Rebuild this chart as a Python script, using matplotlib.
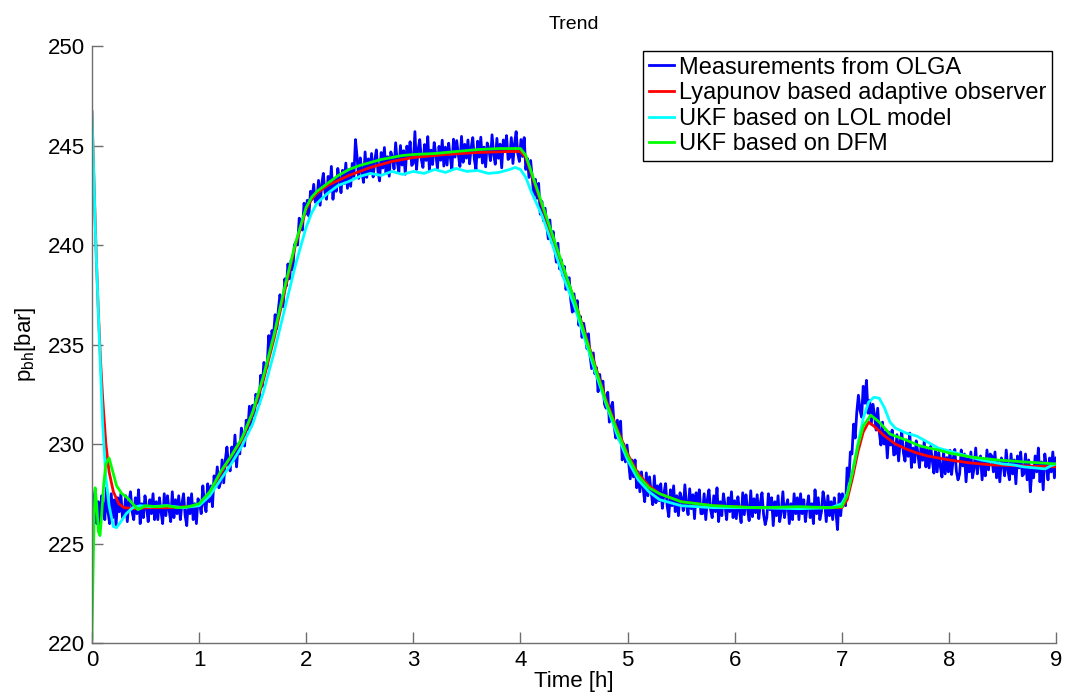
import numpy as np
import matplotlib
matplotlib.use("Agg")
import matplotlib.pyplot as plt

plt.rcParams['font.family'] = ['Liberation Sans', 'DejaVu Sans']

# measurements from OLGA, sampled every 0.015 h (0 .. 9 h), 20 samples per row
meas_t = np.linspace(0, 9, 601)
meas_p = [
    227.5, 226.3, 227.7, 226.0, 227.1, 225.9, 227.4, 226.9, 226.2, 227.8, 226.6, 226.0, 227.5, 226.3, 227.2, 225.9, 227.3, 226.6, 227.5, 226.3,
    226.4, 227.4, 226.1, 227.1, 227.6, 226.6, 226.2, 227.3, 226.5, 227.7, 226.0, 227.0, 226.3, 227.4, 226.8, 226.1, 227.2, 226.5, 227.5, 226.2,
    227.1, 226.2, 227.3, 226.6, 226.0, 227.5, 226.4, 227.4, 226.7, 226.1, 227.6, 226.3, 227.2, 226.5, 227.4, 226.2, 227.0, 227.5, 226.4, 225.9,
    227.3, 226.5, 227.5, 226.2, 227.0, 226.0, 227.25, 227.0, 226.5, 227.9, 227.0, 226.6, 228.0, 227.1, 227.9, 226.85, 228.4, 227.9, 228.85, 227.8,
    228.05, 229.2, 228.05, 229.2, 229.85, 228.95, 228.65, 229.85, 229.15, 230.45, 228.85, 230.0, 229.5, 230.8, 230.4, 229.9, 231.2, 230.7, 231.9, 230.85,
    231.95, 231.4, 232.5, 232.2, 232.0, 233.45, 232.9, 234.1, 233.9, 233.85, 235.45, 234.7, 235.7, 235.45, 236.5, 235.8, 236.75, 237.5, 237.0, 236.9,
    238.3, 237.95, 239.05, 238.3, 239.25, 238.75, 240.0, 240.15, 240.0, 241.35, 240.85, 240.75, 242.1, 241.55, 242.25, 241.45, 242.7, 242.3, 243.05, 242.15,
    242.2, 243.25, 242.0, 243.05, 243.6, 242.65, 242.3, 243.45, 242.7, 243.95, 242.3, 243.35, 242.7, 243.85, 243.3, 242.63, 243.76, 243.09, 244.12, 242.85,
    243.8, 242.95, 244.1, 243.45, 245.3, 244.42, 243.35, 244.38, 243.7, 243.15, 244.68, 243.4, 244.33, 243.66, 244.6, 243.42, 244.25, 244.78, 243.7, 243.22,
    244.65, 243.87, 244.9, 243.62, 244.44, 243.46, 244.68, 244.4, 243.82, 245.14, 244.16, 243.68, 245.0, 244.02, 244.74, 243.56, 244.97, 244.38, 245.19, 244.0,
    244.1, 245.7, 243.8, 244.8, 245.3, 244.3, 243.9, 245.05, 244.25, 245.45, 243.75, 244.77, 244.05, 245.15, 244.55, 243.86, 244.96, 244.26, 245.27, 243.97,
    244.92, 244.02, 245.12, 244.42, 243.82, 245.32, 244.42, 245.25, 244.55, 243.95, 245.46, 244.16, 245.06, 244.37, 245.28, 244.08, 244.9, 245.4, 244.3, 243.8,
    245.22, 244.42, 245.42, 244.12, 244.92, 243.93, 245.13, 244.83, 244.24, 245.54, 244.55, 244.06, 245.36, 244.36, 245.07, 243.88, 245.28, 244.69, 245.5, 244.3,
    244.4, 245.4, 244.1, 245.1, 245.7, 244.6, 244.2, 245.3, 244.45, 245.4, 243.8, 244.35, 243.4, 244.25, 243.4, 242.45, 243.3, 242.35, 243.1, 241.55,
    242.19, 241.22, 241.85, 241.04, 240.31, 241.26, 240.13, 240.68, 239.87, 239.14, 240.09, 238.8, 239.27, 238.46, 238.93, 237.77, 238.21, 238.36, 237.23, 236.63,
    237.55, 236.66, 237.21, 235.97, 236.41, 235.36, 236.07, 235.58, 234.8, 235.54, 234.44, 233.79, 234.58, 233.53, 233.84, 232.63, 233.5, 232.77, 233.16, 232.0,
    231.8, 232.6, 231.1, 231.85, 232.1, 230.9, 230.3, 231.2, 230.2, 231.15, 229.2, 230.0, 229.1, 229.95, 229.1, 228.25, 229.2, 228.35, 229.2, 227.8,
    228.6, 227.6, 228.6, 227.8, 227.1, 228.55, 227.4, 228.35, 227.6, 226.95, 228.4, 227.05, 227.9, 227.15, 228.0, 226.77, 227.54, 228.01, 226.88, 226.35,
    227.7, 226.9, 227.9, 226.6, 227.4, 226.4, 227.55, 227.25, 226.65, 227.95, 226.95, 226.45, 227.75, 226.75, 227.45, 226.25, 227.55, 226.95, 227.7, 226.5,
    226.5, 227.5, 226.2, 227.2, 227.7, 226.7, 226.3, 227.4, 226.6, 227.8, 226.1, 227.1, 226.4, 227.5, 226.9, 226.2, 227.3, 226.6, 227.6, 226.3,
    227.15, 226.25, 227.35, 226.65, 226.05, 227.55, 226.45, 227.45, 226.75, 226.15, 227.65, 226.35, 227.25, 226.55, 227.45, 226.25, 227.05, 227.55, 226.45, 225.95,
    226.3, 227.5, 226.7, 227.3, 225.9, 227.1, 226.4, 227.4, 226.1, 226.6, 227.6, 226.3, 226.9, 227.2, 226.0, 227.0, 226.2, 227.5, 226.5, 227.3,
    226.2, 227.5, 226.5, 227.2, 226.1, 226.8, 227.4, 226.3, 227.0, 226.0, 227.7, 226.5, 227.3, 226.2, 226.6, 227.6, 227.1, 226.1, 227.4, 226.4,
    227.1, 226.2, 227.3, 226.6, 225.7, 227.5, 226.4, 227.5, 227.1, 226.9, 228.8, 228.1, 229.6, 229.5, 231.0, 230.3, 231.6, 232.45, 231.7, 231.35,
    232.9, 232.05, 233.2, 231.55, 232.2, 231.0, 232.0, 231.5, 230.7, 231.8, 230.6, 229.95, 231.1, 230.0, 230.6, 229.3, 230.6, 229.95, 230.7, 229.45,
    229.5, 230.47, 229.15, 230.12, 230.6, 229.57, 229.14, 230.21, 229.38, 230.55, 228.82, 229.8, 229.08, 230.16, 229.54, 228.82, 229.9, 229.18, 230.16, 228.85,
    229.7, 228.8, 229.88, 229.16, 228.54, 229.72, 228.6, 229.58, 228.86, 228.34, 229.62, 228.5, 229.32, 228.6, 229.68, 228.47, 229.25, 229.73, 228.62, 228.2,
    228.5, 229.7, 228.9, 229.5, 228.1, 229.3, 228.6, 229.6, 228.3, 228.8, 229.8, 228.5, 229.1, 229.4, 228.2, 229.2, 228.4, 229.7, 228.7, 229.5,
    229.4, 228.6, 229.6, 228.3, 229.1, 228.1, 229.3, 229.0, 228.4, 229.7, 228.7, 228.2, 229.5, 228.5, 229.2, 228.0, 229.4, 228.8, 229.6, 228.4,
    228.5, 229.5, 228.2, 229.2, 227.6, 228.7, 228.3, 229.4, 228.6, 229.8, 228.1, 229.1, 227.7, 229.5, 228.9, 228.2, 229.3, 228.6, 229.6, 228.3,
    229.3,
]

# Lyapunov based adaptive observer
lyap_t = [0, 0.02, 0.04, 0.06, 0.08, 0.1, 0.13, 0.16, 0.2, 0.25, 0.3, 0.4, 0.5, 0.7, 0.9,
          1.0, 1.1, 1.2, 1.3, 1.4, 1.5, 1.6, 1.7, 1.8, 1.9, 2.0, 2.05, 2.1, 2.2, 2.4, 2.6,
          2.8, 3.0, 3.3, 3.6, 3.9, 4.0, 4.05, 4.1, 4.2, 4.3, 4.4, 4.5, 4.6, 4.7, 4.8, 4.9,
          5.0, 5.1, 5.2, 5.3, 5.5, 5.8, 6.2, 6.6, 6.9, 7.0, 7.05, 7.1, 7.15, 7.2, 7.25, 7.3,
          7.4, 7.5, 7.6, 7.7, 7.8, 8.0, 8.2, 8.4, 8.7, 9.0]
lyap_p = [246.7, 243.0, 239.5, 236.6, 234.2, 232.3, 230.0, 228.6, 227.6, 227.0, 226.8, 226.75,
          226.8, 226.8, 226.85, 226.9, 227.5, 228.5, 229.4, 230.2, 231.5, 233.2, 235.3, 237.7,
          240.0, 241.8, 242.3, 242.6, 243.0, 243.5, 243.9, 244.2, 244.4, 244.55, 244.65, 244.7,
          244.7, 244.4, 243.6, 242.0, 240.3, 238.8, 237.3, 235.6, 233.9, 232.2, 230.8, 229.5,
          228.5, 227.9, 227.5, 227.1, 226.9, 226.8, 226.8, 226.8, 226.8, 227.2, 228.3, 229.6,
          230.6, 231.1, 230.9, 230.4, 230.0, 229.75, 229.55, 229.4, 229.2, 229.05, 228.95,
          228.9, 228.85]

# UKF based on LOL model
lol_t = [0, 0.035, 0.07, 0.1, 0.13, 0.16, 0.2, 0.23, 0.27, 0.32, 0.38, 0.45, 0.55, 0.7, 0.85,
         1.0, 1.1, 1.2, 1.3, 1.4, 1.5, 1.6, 1.7, 1.8, 1.9, 2.0, 2.05, 2.1, 2.2, 2.3, 2.4, 2.5,
         2.6, 2.7, 2.8, 2.9, 3.0, 3.1, 3.2, 3.3, 3.4, 3.5, 3.6, 3.7, 3.8, 3.9, 3.95, 4.0, 4.05,
         4.1, 4.2, 4.3, 4.4, 4.5, 4.6, 4.7, 4.8, 4.9, 5.0, 5.1, 5.2, 5.3, 5.5, 5.8, 6.2, 6.6,
         6.9, 7.0, 7.05, 7.1, 7.15, 7.2, 7.25, 7.3, 7.35, 7.4, 7.45, 7.5, 7.6, 7.7, 7.8, 7.9,
         8.0, 8.1, 8.2, 8.3, 8.4, 8.5, 8.6, 8.7, 8.8, 8.9, 8.95, 9.0]
lol_p = [246.7, 240.2, 235.1, 231.0, 228.3, 226.9, 225.85, 225.8, 226.1, 226.5, 226.8, 226.9,
         226.85, 226.9, 226.8, 226.9, 227.4, 228.2, 229.0, 229.9, 231.0, 232.6, 234.6, 236.8,
         239.0, 240.9, 241.6, 242.1, 242.6, 243.0, 243.2, 243.45, 243.6, 243.5, 243.7, 243.55,
         243.7, 243.6, 243.8, 243.65, 243.85, 243.7, 243.75, 243.6, 243.65, 243.8, 243.9,
         243.8, 243.4, 242.7, 241.5, 240.0, 238.4, 237.0, 235.3, 233.6, 232.0, 230.5, 229.2,
         228.2, 227.6, 227.2, 226.9, 226.8, 226.8, 226.75, 226.8, 227.0, 227.5, 228.6, 230.0,
         231.3, 232.1, 232.35, 232.3, 231.8, 231.1, 230.8, 230.55, 230.4, 230.1, 229.8,
         229.65, 229.5, 229.35, 229.2, 229.1, 229.0, 228.95, 228.85, 228.8, 228.75, 228.9, 229.0]

# UKF based on DFM
dfm_t = [0, 0.01, 0.02, 0.03, 0.045, 0.06, 0.075, 0.09, 0.11, 0.13, 0.16, 0.19, 0.23, 0.28,
         0.33, 0.38, 0.43, 0.5, 0.6, 0.7, 0.8, 0.9, 1.0, 1.1, 1.2, 1.3, 1.4, 1.5, 1.6, 1.7,
         1.8, 1.9, 2.0, 2.05, 2.1, 2.2, 2.3, 2.4, 2.5, 2.6, 2.7, 2.8, 2.9, 3.0, 3.2, 3.4, 3.6,
         3.8, 4.0, 4.05, 4.1, 4.2, 4.3, 4.4, 4.5, 4.6, 4.7, 4.8, 4.9, 5.0, 5.1, 5.2, 5.3, 5.5,
         5.8, 6.2, 6.6, 6.9, 7.0, 7.05, 7.1, 7.15, 7.2, 7.27, 7.35, 7.45, 7.6, 7.73, 7.9, 8.0,
         8.2, 8.45, 8.7, 9.0]
dfm_p = [220.2, 223.5, 226.3, 227.8, 226.9, 225.6, 225.4, 226.4, 228.0, 229.0, 229.3, 228.7,
         227.9, 227.5, 227.3, 227.0, 226.7, 226.9, 226.85, 226.9, 226.8, 226.85, 227.0, 227.6,
         228.6, 229.4, 230.3, 231.6, 233.4, 235.5, 237.9, 240.1, 241.9, 242.4, 242.7, 243.1,
         243.5, 243.8, 244.0, 244.15, 244.3, 244.4, 244.5, 244.55, 244.6, 244.7, 244.8, 244.85,
         244.85, 244.5, 243.7, 242.1, 240.5, 238.9, 237.3, 235.5, 233.8, 232.1, 230.7, 229.4,
         228.4, 227.8, 227.5, 227.1, 226.9, 226.8, 226.85, 226.8, 226.85, 227.4, 228.6, 229.9,
         230.9, 231.45, 231.1, 230.5, 230.2, 229.9, 229.7, 229.55, 229.35, 229.2, 229.1, 229.0]

fig = plt.figure(figsize=(10.68, 6.98), dpi=100)
ax = fig.add_axes([0.0861, 0.0788, 0.9027, 0.8552])

ax.plot(meas_t, meas_p, color='#0000ff', lw=2.0, label='Measurements from OLGA')
ax.plot(lyap_t, lyap_p, color='#ff0000', lw=2, label='Lyapunov based adaptive observer')
ax.plot(lol_t, lol_p, color='#00ffff', lw=2, label='UKF based on LOL model')
ax.plot(dfm_t, dfm_p, color='#00ff00', lw=2, label='UKF based on DFM')

ax.set_xlim(0, 9)
ax.set_ylim(220, 250)
ax.set_xticks(range(0, 10))
ax.set_yticks(range(220, 251, 5))

for side in ['top', 'right']:
    ax.spines[side].set_visible(False)
for side in ['left', 'bottom']:
    ax.spines[side].set_color('#6e6e6e')
    ax.spines[side].set_linewidth(1)
ax.tick_params(direction='in', length=8, width=1, color='#6e6e6e',
               labelsize=16, labelcolor='black', pad=5)

ax.set_title('Trend', fontsize=14, pad=12)
ax.set_xlabel('Time [h]', fontsize=16)
ax.xaxis.set_label_coords(0.5, -0.065)
ax.xaxis.label.set_va('center')
ax.set_ylabel(r'p$_{\mathregular{bh}}$[bar]', fontsize=16)
ax.yaxis.set_label_coords(-0.069, 0.5)
ax.yaxis.label.set_va('center')

leg = ax.legend(loc='upper right', bbox_to_anchor=(0.996, 0.992), borderaxespad=0,
                fontsize=17, fancybox=False, framealpha=1, edgecolor='black',
                handlelength=1.05, handletextpad=0.2, labelspacing=0.15,
                borderpad=0.25)
leg.get_frame().set_linewidth(1)

fig.savefig('out.png', dpi=100)
